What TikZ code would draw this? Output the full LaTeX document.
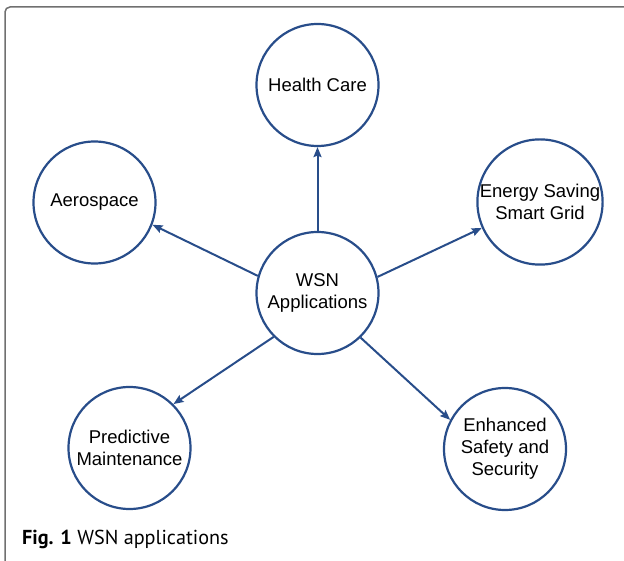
\documentclass[tikz,border=0pt]{standalone}
\usepackage{fontspec}
\setmainfont{Liberation Sans}
\newfontfamily\capfont{PT Sans}
\usetikzlibrary{arrows.meta}
\definecolor{wsnblue}{RGB}{40,77,138}
\definecolor{framegray}{RGB}{112,112,112}
\begin{document}
\begin{tikzpicture}[x=1pt, y=-1pt,
  app/.style={circle, draw=wsnblue, line width=2.2pt, minimum size=122pt, inner sep=0pt, align=center, font=\fontsize{18.5}{22}\selectfont},
  arr/.style={draw=wsnblue, line width=2pt, -{Stealth[length=10pt, width=8pt, inset=1.5pt]}}]
\useasboundingbox (0,0) rectangle (624,561);
\draw[framegray, line width=1.5pt, rounded corners=5pt] (5,565) -- (5,7) -- (630,7);
\node[app] (wsn) at (317.5,293){WSN\\Applications};
\node[app] (hc) at (317.5,85){Health Care};
\node[app] (aero) at (94.5,202.5){Aerospace};
\node[app] (esg) at (540,202){Energy Saving\\Smart Grid};
\node[app] (pm) at (129.5,448){Predictive\\Maintenance};
\node[app] (ess) at (505,449){Enhanced\\Safety and\\Security};
\draw[arr](wsn) -- (hc);
\draw[arr](wsn.164) -- (aero.-21);
\draw[arr](wsn.15) -- (esg.-156);
\draw[arr](wsn.-135) -- (pm.45);
\draw[arr](wsn.-46) -- (ess.152);
\node[anchor=base west, inner sep=0pt, font=\capfont\fontsize{20.2}{22}\selectfont] (cap) at (22,544){\textbf{Fig. 1} WSN applications};
\end{tikzpicture}
\end{document}
